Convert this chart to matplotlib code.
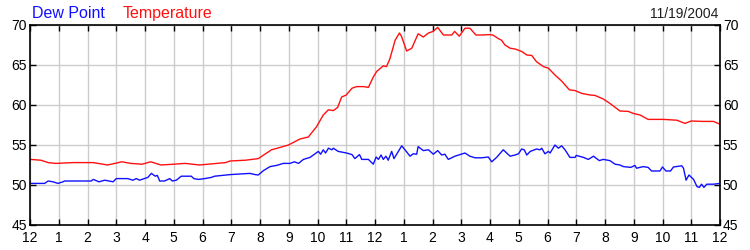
import matplotlib
matplotlib.use("Agg")
import matplotlib.pyplot as plt

# hours after midnight
temp_hours = [0, 0.38, 0.63, 0.9, 1.5, 2.2, 2.7, 3.2, 3.5, 3.9, 4.2, 4.55, 5.0, 5.4, 5.9,
              6.2, 6.8, 6.96, 7.5, 7.94, 8.4, 8.7, 8.99, 9.39, 9.68, 9.97, 10.2, 10.38,
              10.55, 10.7, 10.84, 11.0, 11.2, 11.36, 11.6, 11.77, 11.94, 12.06, 12.29,
              12.4, 12.52, 12.7, 12.85, 12.92, 13.1, 13.28, 13.5, 13.68, 13.86, 14.02,
              14.18, 14.38, 14.67, 14.77, 14.93, 15.13, 15.3, 15.51, 15.77, 15.94, 16.1,
              16.29, 16.4, 16.52, 16.7, 16.87, 17.1, 17.28, 17.45, 17.62, 17.86, 18.03,
              18.26, 18.49, 18.76, 18.96, 19.19, 19.48, 19.65, 19.94, 20.17, 20.52, 20.81,
              20.98, 21.22, 21.5, 22.03, 22.5, 22.78, 23.0, 23.4, 23.77, 24.0]
temperature = [53.2, 53.1, 52.8, 52.7, 52.8, 52.8, 52.5, 52.9, 52.7, 52.6, 52.9, 52.5, 52.6,
               52.7, 52.5, 52.6, 52.8, 53.0, 53.1, 53.3, 54.4, 54.7, 55.0, 55.75, 56.0,
               57.3, 58.75, 59.4, 59.3, 59.7, 61.0, 61.25, 62.1, 62.3, 62.3, 62.2, 63.5,
               64.2, 64.9, 64.8, 65.8, 68.1, 69.0, 68.6, 66.75, 67.1, 68.9, 68.5, 69.0,
               69.2, 69.7, 68.75, 68.75, 69.2, 68.6, 69.6, 69.6, 68.75, 68.75, 68.8,
               68.75, 68.3, 68.1, 67.5, 67.1, 67.0, 66.7, 66.25, 66.2, 65.4, 64.8, 64.6,
               63.75, 63.0, 61.9, 61.8, 61.45, 61.25, 61.2, 60.75, 60.2, 59.25, 59.2,
               58.95, 58.75, 58.2, 58.2, 58.1, 57.7, 58.0, 57.95, 57.95, 57.6]

dew_hours = [0, 0.51, 0.63, 0.8, 0.97, 1.15, 1.2, 2.13, 2.2, 2.4, 2.6, 2.89, 3.0, 3.4, 3.58,
             3.7, 3.81, 4.1, 4.22, 4.36, 4.43, 4.51, 4.68, 4.86, 4.95, 5.09, 5.26, 5.61,
             5.7, 5.86, 6.08, 6.31, 6.42, 6.96, 7.65, 7.83, 7.94, 8.12, 8.35, 8.58, 8.81,
             9.04, 9.2, 9.34, 9.51, 9.74, 10.03, 10.11, 10.2, 10.28, 10.38, 10.5, 10.55,
             10.72, 11.01, 11.2, 11.3, 11.46, 11.54, 11.77, 11.94, 12.04, 12.12, 12.21,
             12.29, 12.38, 12.46, 12.58, 12.66, 12.93, 13.22, 13.33, 13.45, 13.5, 13.68,
             13.86, 14.03, 14.18, 14.32, 14.43, 14.55, 14.78, 15.13, 15.3, 15.48, 15.71,
             15.94, 16.06, 16.23, 16.46, 16.7, 16.87, 16.99, 17.1, 17.19, 17.28, 17.4,
             17.62, 17.74, 17.8, 17.91, 18.03, 18.09, 18.26, 18.38, 18.49, 18.61, 18.78,
             18.96, 19.0, 19.25, 19.42, 19.6, 19.8, 19.94, 20.17, 20.35, 20.52, 20.64,
             20.9, 21.04, 21.1, 21.33, 21.5, 21.62, 21.91, 22.0, 22.12, 22.28, 22.38,
             22.67, 22.73, 22.82, 22.92, 23.08, 23.2, 23.28, 23.36, 23.44, 23.54, 23.77,
             24.0]
dew_point = [50.2, 50.2, 50.5, 50.4, 50.2, 50.4, 50.5, 50.5, 50.7, 50.4, 50.6, 50.4, 50.8,
             50.8, 50.6, 50.8, 50.6, 50.95, 51.45, 51.1, 51.2, 50.5, 50.5, 50.8, 50.5,
             50.6, 51.1, 51.1, 50.8, 50.7, 50.8, 50.95, 51.1, 51.3, 51.45, 51.3, 51.25,
             51.8, 52.3, 52.45, 52.7, 52.7, 52.9, 52.7, 53.2, 53.45, 54.2, 53.85, 54.4,
             54.0, 54.6, 54.4, 54.6, 54.2, 54.0, 53.8, 53.3, 53.8, 53.2, 53.2, 52.6, 53.5,
             53.2, 53.75, 53.2, 53.6, 53.1, 54.2, 53.3, 54.9, 53.6, 53.9, 53.85, 54.8,
             54.3, 54.4, 53.85, 54.3, 53.75, 53.85, 53.2, 53.6, 54.0, 53.6, 53.4, 53.4,
             53.5, 52.9, 53.45, 54.4, 53.6, 53.75, 53.9, 54.5, 54.4, 53.75, 54.2, 54.5,
             54.4, 54.6, 53.9, 54.2, 54.0, 55.0, 54.6, 54.9, 54.4, 53.45, 53.45, 53.7,
             53.45, 53.2, 53.6, 53.05, 53.2, 53.05, 52.6, 52.5, 52.3, 52.2, 52.45, 52.1,
             52.3, 52.2, 51.75, 51.75, 52.25, 51.75, 51.75, 52.25, 52.4, 52.1, 50.6,
             51.25, 50.7, 49.8, 49.7, 50.1, 49.7, 50.1, 50.1, 50.2]

hour_labels = ["12", "1", "2", "3", "4", "5", "6", "7", "8", "9", "10", "11",
               "12", "1", "2", "3", "4", "5", "6", "7", "8", "9", "10", "11", "12"]
y_ticks = [45, 50, 55, 60, 65, 70]
date_text = "11/19/2004"

plt.rcParams["font.family"] = ["Liberation Sans", "DejaVu Sans"]

fig = plt.figure(figsize=(7.5, 2.5), dpi=100)
ax = fig.add_axes([0.04, 0.1, 0.92, 0.8])

ax.plot(temp_hours, temperature, color="#ff1010", lw=1.0)
ax.plot(dew_hours, dew_point, color="#1010ff", lw=1.0)

ax.set_xlim(0, 24)
ax.set_ylim(45, 70)
ax.set_xticks(range(25))
ax.set_xticklabels(hour_labels)
ax.set_yticks(y_ticks)
ax.grid(True, color="#cccccc", lw=1.0)
ax.set_axisbelow(True)

ax.tick_params(axis="x", direction="in", length=4, width=1, top=True, labelsize=10, pad=4)
ax.tick_params(axis="y", direction="in", length=4, width=1, right=True,
               labelright=True, labelsize=10, pad=2)
for s in ax.spines.values():
    s.set_linewidth(1.2)

fig.text(0.043, 0.915, "Dew Point", color="#1010ff", fontsize=11.5, va="bottom")
fig.text(0.163, 0.915, "Temperature", color="#ff1010", fontsize=11.5, va="bottom")
fig.text(0.958, 0.915, date_text, color="#202020", fontsize=10, va="bottom", ha="right")

fig.savefig("out.png", dpi=100)
